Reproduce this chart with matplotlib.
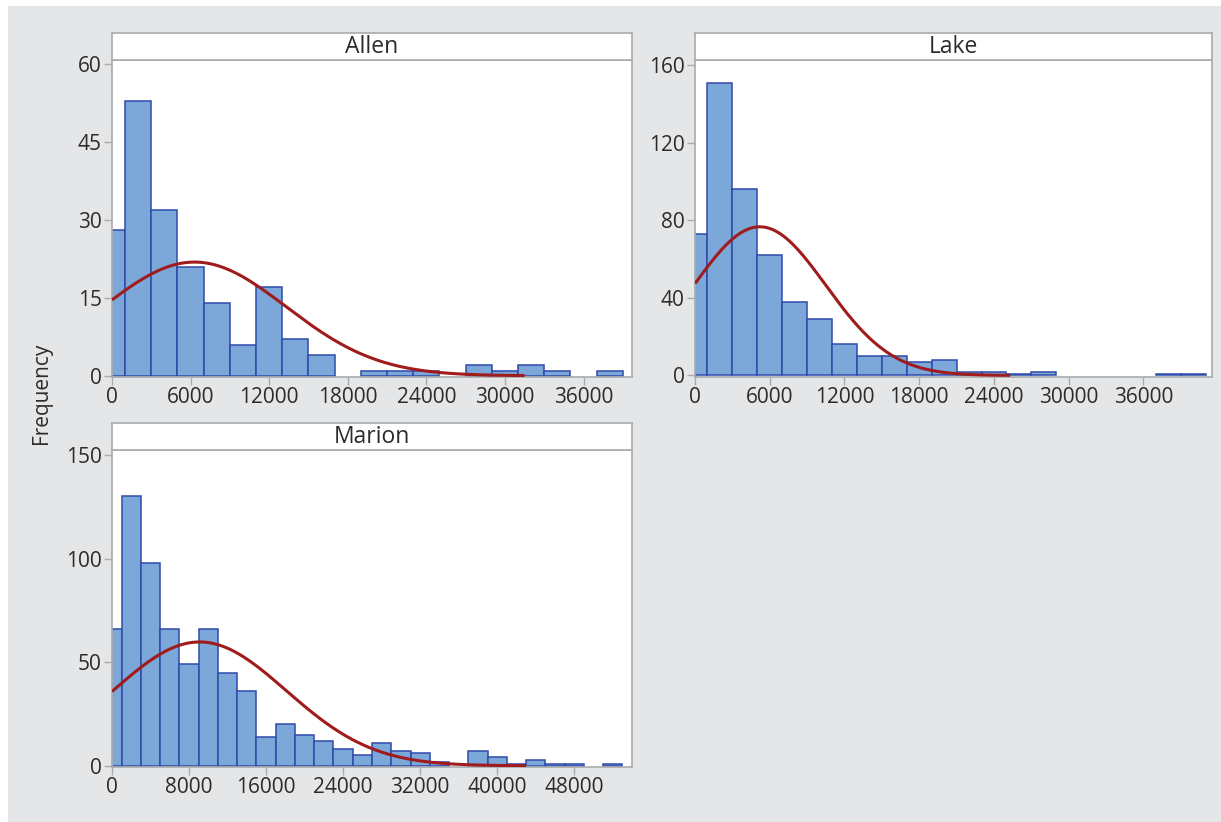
import numpy as np
import matplotlib
matplotlib.use("Agg")
import matplotlib.pyplot as plt
from matplotlib.patches import Rectangle

plt.rcParams['font.family'] = ['Open Sans', 'DejaVu Sans']

# ---------------- data ----------------
bin_width = 2000
allen_counts = [28, 53, 32, 21, 14, 6, 17, 7, 4, 0, 1, 1, 1, 0, 2, 1, 2, 1, 0, 1]
lake_counts = [73, 151, 96, 62, 38, 29, 16, 10, 10, 7, 8, 2, 2, 1, 2, 0, 0, 0, 0, 1, 1]
marion_counts = [66, 130, 98, 66, 49, 66, 45, 36, 14, 20, 15, 12, 8, 5, 11, 7, 6, 2, 0,
                 7, 4, 1, 3, 1, 1, 0, 1]

panel_names = ["Allen", "Lake", "Marion"]
fit_means = [6300, 5200, 9100]
fit_sds = [7000, 5300, 9000]
fit_ends = [31500, 25300, 43000]

allen_yticks = [0, 15, 30, 45, 60]
lake_yticks = [0, 40, 80, 120, 160]
marion_yticks = [0, 50, 100, 150]
allen_xticks = [0, 6000, 12000, 18000, 24000, 30000, 36000]
lake_xticks = [0, 6000, 12000, 18000, 24000, 30000, 36000]
marion_xticks = [0, 8000, 16000, 24000, 32000, 40000, 48000]

# ---------------- style ----------------
W, H = 1221, 822
BG = '#e5e6e8'
BAR_FILL = '#7ba7d9'
BAR_EDGE = '#2f4aab'
CURVE = '#a01c1c'
SPINE = '#a9aaad'
TEXT = '#2b2b2b'

fig = plt.figure(figsize=(W / 100, H / 100), dpi=100)
fig.patch.set_facecolor('white')
fig.patches.append(Rectangle((8 / W, 0), 1 - 8 / W, 1 - 6 / H, transform=fig.transFigure,
                             facecolor=BG, edgecolor='none', zorder=-10))


def px_axes(left, top, right, bottom):
    return [left / W, 1 - bottom / H, (right - left) / W, (bottom - top) / H]


panels = [
    dict(counts=allen_counts, box=(112, 60, 632, 377), xlim=(0, 39700),
         ylim=(-0.25, 60.8), yticks=allen_yticks, xticks=allen_xticks, idx=0),
    dict(counts=lake_counts, box=(695, 60, 1212, 377), xlim=(0, 41500),
         ylim=(-0.8, 162.6), yticks=lake_yticks, xticks=lake_xticks, idx=1),
    dict(counts=marion_counts, box=(112, 450, 632, 767), xlim=(0, 54000),
         ylim=(-0.6, 152.4), yticks=marion_yticks, xticks=marion_xticks, idx=2),
]

for p in panels:
    l, t, r, b = p['box']
    i = p['idx']
    ax = fig.add_axes(px_axes(l, t, r, b))
    ax.set_facecolor('white')
    counts = np.array(p['counts'])
    centers = np.arange(len(counts)) * bin_width
    mask = counts > 0
    ax.bar(centers[mask], counts[mask], width=bin_width, align='center',
           facecolor=BAR_FILL, edgecolor=BAR_EDGE, linewidth=1.1, zorder=2)
    # fitted normal curve
    n = counts.sum()
    mu, sd = fit_means[i], fit_sds[i]
    xs = np.linspace(0, fit_ends[i], 400)
    ys = n * bin_width / (sd * np.sqrt(2 * np.pi)) * np.exp(-0.5 * ((xs - mu) / sd) ** 2)
    ax.plot(xs, ys, color=CURVE, linewidth=2.2, zorder=3, solid_capstyle='butt')

    ax.set_xlim(*p['xlim'])
    ax.set_ylim(*p['ylim'])
    ax.set_xticks(p['xticks'])
    ax.set_yticks(p['yticks'])
    ax.tick_params(axis='both', direction='out', length=6, width=1, color=SPINE,
                   labelcolor=TEXT, labelsize=15, pad=1.5)
    for s in ax.spines.values():
        s.set_color(SPINE)
        s.set_linewidth(1.2)

    # strip header
    sax = fig.add_axes(px_axes(l, t - 27, r, t))
    sax.set_facecolor('white')
    sax.set_xticks([])
    sax.set_yticks([])
    for s in sax.spines.values():
        s.set_color(SPINE)
        s.set_linewidth(1.2)
    sax.text(0.5, 0.47, panel_names[i], ha='center', va='center', fontsize=16.5,
             color=TEXT, transform=sax.transAxes)

fig.text(42 / W, 1 - 393 / H, 'Frequency', rotation=90, ha='center', va='center',
         fontsize=15, color=TEXT)

fig.savefig('out.png', dpi=100, facecolor=fig.get_facecolor())
